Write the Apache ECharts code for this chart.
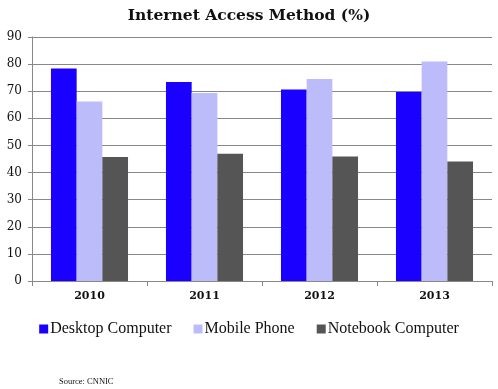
<!DOCTYPE html>
<html><head><meta charset="utf-8">
<script src="https://cdn.jsdelivr.net/npm/echarts@6/dist/echarts.min.js"></script>
<style>html,body{margin:0;padding:0;background:#fff}#c{width:498px;height:389px}</style>
</head><body><div id="c"></div>
<script>
const years = ['2010', '2011', '2012', '2013'];
const desktop = [78.4, 73.4, 70.6, 69.7];
const mobile = [66.2, 69.3, 74.5, 81.0];
const notebook = [45.7, 46.9, 45.9, 44.1];
const seriesNames = ['Desktop Computer', 'Mobile Phone', 'Notebook Computer'];
const colors = ['#1a00ff', '#bcbcfa', '#555555'];
const serif = '"DejaVu Serif", "Liberation Serif", serif';
const serif2 = '"Liberation Serif", "DejaVu Serif", serif';

const chart = echarts.init(document.getElementById('c'), null, {renderer: 'canvas'});
chart.setOption({
  animation: false,
  color: colors,
  title: [
    {text: 'Internet Access Method (%)', left: 'center', top: 3,
     textStyle: {fontFamily: serif, fontSize: 15.5, fontWeight: 'bold', color: '#111'}},
    {text: 'Source: CNNIC', left: 54, top: 372,
     textStyle: {fontFamily: serif2, fontSize: 8.5, fontWeight: 'normal', color: '#111'}}
  ],
  legend: {
    data: seriesNames, top: 316, left: 'center', itemWidth: 9, itemHeight: 9, itemGap: 22,
    icon: 'rect',
    textStyle: {fontFamily: serif2, fontSize: 16, color: '#111', padding: [0, 0, 0, -3]}
  },
  grid: {left: 32, right: 6, top: 37, bottom: 108, containLabel: false},
  xAxis: {
    type: 'category', data: years,
    axisLine: {lineStyle: {color: '#888', width: 1}},
    axisTick: {show: true, length: 5, lineStyle: {color: '#888'}},
    axisLabel: {fontFamily: serif, fontSize: 11, fontWeight: 'bold', color: '#111', margin: 10}
  },
  yAxis: {
    type: 'value', min: 0, max: 90, interval: 10,
    axisLine: {show: true, lineStyle: {color: '#888'}},
    axisTick: {show: true, length: 4, lineStyle: {color: '#888'}},
    splitLine: {lineStyle: {color: '#888', width: 1}},
    axisLabel: {fontFamily: serif, fontSize: 12, color: '#111', margin: 10}
  },
  series: [
    {name: seriesNames[0], type: 'bar', data: desktop, barGap: '0%', barCategoryGap: '33%'},
    {name: seriesNames[1], type: 'bar', data: mobile, barGap: '0%', barCategoryGap: '33%'},
    {name: seriesNames[2], type: 'bar', data: notebook, barGap: '0%', barCategoryGap: '33%'}
  ]
});
</script></body></html>
